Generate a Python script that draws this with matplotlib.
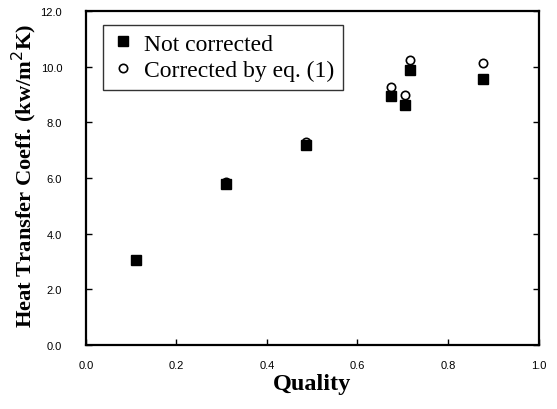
import matplotlib
matplotlib.use('Agg')
import matplotlib.pyplot as plt

# quality and heat transfer coefficient (kW/m2K)
quality = [0.110, 0.309, 0.486, 0.673, 0.705, 0.716, 0.877]
not_corrected = [3.04, 5.79, 7.19, 8.95, 8.62, 9.87, 9.57]
corrected = [3.04, 5.85, 7.30, 9.27, 8.98, 10.25, 10.13]

xticks = [0.0, 0.2, 0.4, 0.6, 0.8, 1.0]
yticks = [0.0, 2.0, 4.0, 6.0, 8.0, 10.0, 12.0]

fig = plt.figure(figsize=(5.57, 4.10), dpi=100)
ax = fig.add_axes([0.154, 0.156, 0.813, 0.815])

ax.plot(quality, not_corrected, 's', color='black', markersize=7,
        label='Not corrected')
ax.plot(quality[1:], corrected[1:], 'o', markerfacecolor='none',
        markeredgecolor='black', markeredgewidth=1.2, markersize=6,
        label='Corrected by eq. (1)')

ax.set_xlim(0, 1.0)
ax.set_ylim(0, 12.0)
ax.set_xticks(xticks)
ax.set_yticks(yticks)
ax.set_xticklabels(['%.1f' % t for t in xticks],
                   fontfamily='Liberation Sans', fontsize=8)
ax.set_yticklabels(['%.1f' % t for t in yticks],
                   fontfamily='Liberation Sans', fontsize=8)
ax.tick_params(direction='in', length=4, width=1, right=True)
ax.tick_params(axis='x', pad=11)
ax.tick_params(axis='y', pad=17)

for spine in ax.spines.values():
    spine.set_linewidth(1.6)

ax.set_xlabel('Quality', fontfamily='Liberation Serif', fontweight='bold',
              fontsize=17.5, va='center')
ax.set_ylabel('Heat Transfer Coeff. (kw/m$^2$K)',
              fontfamily='Liberation Serif', fontweight='bold', fontsize=16.2,
              va='center')
ax.xaxis.set_label_coords(0.5, -0.115)
ax.yaxis.set_label_coords(-0.135, 0.51)

leg = ax.legend(loc='upper left', bbox_to_anchor=(0.0375, 0.958),
                prop={'family': 'Liberation Serif', 'size': 17},
                frameon=True, fancybox=False, edgecolor='black',
                handletextpad=0.4, handlelength=1.0, borderpad=0.35,
                labelspacing=0.22, borderaxespad=0)
leg.get_frame().set_linewidth(1.0)

fig.savefig('out.png', dpi=100)
